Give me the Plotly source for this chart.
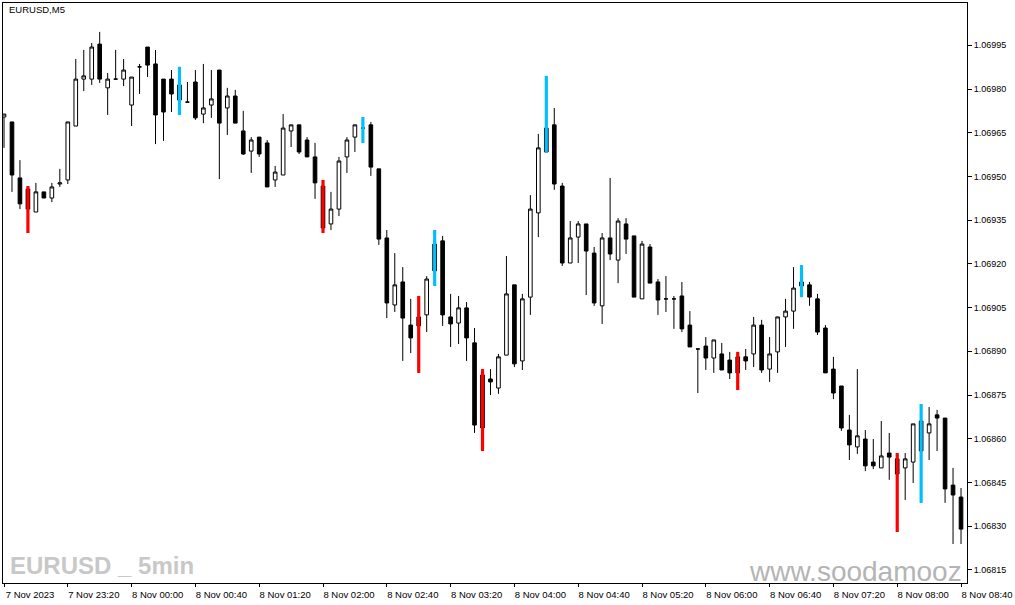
import plotly.graph_objects as go

# EURUSD M5 bars, 7 Nov 2023 22:40 -> 8 Nov 2023 08:40 (one bar every 5 minutes)
open_ = [
    1.069704, 1.069687, 1.069495, 1.069457, 1.069378, 1.069447, 1.069426, 1.069474, 1.069488, 1.069673,
    1.069834, 1.069834, 1.069954, 1.069804, 1.069834, 1.069834, 1.069745, 1.069876, 1.069944, 1.069886,
    1.069834, 1.069834, 1.069814, 1.069755, 1.069824, 1.069714, 1.069745, 1.069865, 1.069735, 1.069776,
    1.069656, 1.069587, 1.069635, 1.069615, 1.069488, 1.069505, 1.069656, 1.069677, 1.069625, 1.069567,
    1.069467, 1.069337, 1.069388, 1.069567, 1.069635, 1.069666, 1.069677, 1.069526, 1.069289, 1.069059,
    1.069138, 1.068990, 1.069018, 1.069025, 1.069268, 1.069279, 1.069018, 1.068997, 1.069049, 1.068929,
    1.068819, 1.068805, 1.068774, 1.068887, 1.069128, 1.068867, 1.069086, 1.069375, 1.069666, 1.069677,
    1.069467, 1.069203, 1.069292, 1.069337, 1.069237, 1.069056, 1.069289, 1.069213, 1.069337, 1.069296,
    1.069080, 1.069258, 1.069138, 1.069080, 1.069080, 1.069090, 1.068990, 1.068908, 1.068918, 1.068877,
    1.068891, 1.068870, 1.068881, 1.068881, 1.068891, 1.068990, 1.068839, 1.068898, 1.069018, 1.069038,
    1.069138, 1.069128, 1.069080, 1.068980, 1.068839, 1.068781, 1.068630, 1.068572, 1.068599, 1.068520,
    1.068500, 1.068551, 1.068531, 1.068500, 1.068520, 1.068661, 1.068620, 1.068682, 1.068671, 1.068441,
    1.068400,
]
high = [
    1.069714, 1.069687, 1.069556, 1.069467, 1.069478, 1.069447, 1.069478, 1.069526, 1.069687, 1.069903,
    1.069934, 1.069958, 1.069996, 1.069855, 1.069934, 1.069903, 1.069841, 1.069886, 1.069944, 1.069934,
    1.069834, 1.069865, 1.069876, 1.069824, 1.069865, 1.069886, 1.069865, 1.069865, 1.069804, 1.069797,
    1.069725, 1.069635, 1.069635, 1.069625, 1.069536, 1.069714, 1.069677, 1.069677, 1.069635, 1.069615,
    1.069488, 1.069447, 1.069567, 1.069635, 1.069677, 1.069704, 1.069687, 1.069526, 1.069316, 1.069237,
    1.069189, 1.069080, 1.069090, 1.069158, 1.069316, 1.069296, 1.069097, 1.069090, 1.069069, 1.068980,
    1.068839, 1.068839, 1.068891, 1.069227, 1.069128, 1.069097, 1.069436, 1.069646, 1.069845, 1.069735,
    1.069478, 1.069347, 1.069347, 1.069337, 1.069258, 1.069306, 1.069495, 1.069357, 1.069357, 1.069296,
    1.069279, 1.069268, 1.069148, 1.069158, 1.069090, 1.069138, 1.069038, 1.068908, 1.068949, 1.068939,
    1.068929, 1.068898, 1.068898, 1.068908, 1.069018, 1.069008, 1.068949, 1.069018, 1.069080, 1.069189,
    1.069196, 1.069138, 1.069097, 1.068990, 1.068881, 1.068781, 1.068682, 1.068839, 1.068630, 1.068599,
    1.068661, 1.068620, 1.068551, 1.068551, 1.068651, 1.068719, 1.068709, 1.068699, 1.068671, 1.068500,
    1.068431,
]
low = [
    1.069598, 1.069447, 1.069388, 1.069306, 1.069378, 1.069426, 1.069412, 1.069464, 1.069474, 1.069673,
    1.069793, 1.069814, 1.069821, 1.069711, 1.069834, 1.069810, 1.069673, 1.069783, 1.069841, 1.069611,
    1.069622, 1.069721, 1.069711, 1.069755, 1.069694, 1.069683, 1.069701, 1.069491, 1.069642, 1.069683,
    1.069574, 1.069512, 1.069567, 1.069464, 1.069464, 1.069505, 1.069601, 1.069577, 1.069567, 1.069423,
    1.069306, 1.069316, 1.069364, 1.069512, 1.069584, 1.069615, 1.069502, 1.069265, 1.069014, 1.069035,
    1.068867, 1.068894, 1.068826, 1.068966, 1.069124, 1.068987, 1.068915, 1.068925, 1.068867, 1.068620,
    1.068558, 1.068750, 1.068754, 1.068887, 1.068846, 1.068836, 1.069025, 1.069292, 1.069584, 1.069454,
    1.069193, 1.069203, 1.069203, 1.069093, 1.069056, 1.068994, 1.069213, 1.069134, 1.069234, 1.069086,
    1.069080, 1.069134, 1.069025, 1.069035, 1.068977, 1.068966, 1.068915, 1.068757, 1.068836, 1.068826,
    1.068836, 1.068805, 1.068767, 1.068836, 1.068846, 1.068826, 1.068795, 1.068826, 1.068915, 1.068977,
    1.069086, 1.069056, 1.068956, 1.068826, 1.068736, 1.068627, 1.068527, 1.068548, 1.068489, 1.068496,
    1.068500, 1.068459, 1.068280, 1.068390, 1.068448, 1.068380, 1.068527, 1.068558, 1.068380, 1.068239,
    1.068239,
]
close = [
    1.069714, 1.069505, 1.069406, 1.069388, 1.069447, 1.069426, 1.069464, 1.069478, 1.069687, 1.069834,
    1.069845, 1.069944, 1.069834, 1.069834, 1.069834, 1.069865, 1.069841, 1.069876, 1.069882, 1.069711,
    1.069721, 1.069783, 1.069762, 1.069755, 1.069701, 1.069735, 1.069766, 1.069683, 1.069776, 1.069683,
    1.069577, 1.069625, 1.069577, 1.069464, 1.069515, 1.069666, 1.069677, 1.069584, 1.069567, 1.069478,
    1.069323, 1.069388, 1.069553, 1.069625, 1.069677, 1.069666, 1.069532, 1.069285, 1.069066, 1.069128,
    1.069014, 1.068946, 1.068987, 1.069148, 1.069176, 1.069025, 1.068994, 1.069049, 1.068946, 1.068647,
    1.068637, 1.068795, 1.068881, 1.069097, 1.068857, 1.069080, 1.069388, 1.069598, 1.069584, 1.069474,
    1.069203, 1.069289, 1.069337, 1.069244, 1.069066, 1.069289, 1.069234, 1.069347, 1.069285, 1.069086,
    1.069268, 1.069134, 1.069076, 1.069080, 1.069080, 1.068977, 1.068915, 1.068908, 1.068877, 1.068939,
    1.068836, 1.068826, 1.068826, 1.068867, 1.068990, 1.068836, 1.068891, 1.069018, 1.069038, 1.069117,
    1.069124, 1.069086, 1.068966, 1.068826, 1.068757, 1.068637, 1.068579, 1.068610, 1.068507, 1.068507,
    1.068541, 1.068537, 1.068479, 1.068531, 1.068651, 1.068558, 1.068651, 1.068671, 1.068428, 1.068407,
    1.068290,
]
bars = list(range(len(open_)))

# bars flagged by the indicator (drawn high-to-low in colour)
red_bars = [3, 40, 52, 60, 92, 112]
blue_bars = [22, 45, 54, 68, 100, 115]

tick_bars = list(range(0, 121, 8))
tick_labels = ["7 Nov 2023", "7 Nov 23:20", "8 Nov 00:00", "8 Nov 00:40", "8 Nov 01:20",
               "8 Nov 02:00", "8 Nov 02:40", "8 Nov 03:20", "8 Nov 04:00", "8 Nov 04:40",
               "8 Nov 05:20", "8 Nov 06:00", "8 Nov 06:40", "8 Nov 07:20", "8 Nov 08:00",
               "8 Nov 08:40"]

fig = go.Figure()

fig.add_trace(go.Candlestick(
    x=bars, open=open_, high=high, low=low, close=close,
    increasing=dict(fillcolor="white", line=dict(color="black", width=1)),
    decreasing=dict(fillcolor="black", line=dict(color="black", width=1)),
    whiskerwidth=0,
    showlegend=False,
))

# coloured high-low lines, scatter layer sits above the candles
for idx, col in [(red_bars, "#ff0000"), (blue_bars, "#00bfff")]:
    xs, ys = [], []
    for i in idx:
        xs += [i, i, None]
        ys += [low[i], high[i], None]
    fig.add_trace(go.Scatter(x=xs, y=ys, mode="lines",
                             line=dict(color=col, width=3.2),
                             showlegend=False))

fig.add_annotation(text="EURUSD,M5", xref="paper", yref="paper", x=0.004, y=0.988,
                   xanchor="left", yanchor="middle", showarrow=False,
                   font=dict(family="Liberation Sans", size=9.5, color="black"))
fig.add_annotation(text="EURUSD _ 5min", xref="paper", yref="paper", x=0.005, y=0.031,
                   xanchor="left", yanchor="middle", showarrow=False,
                   font=dict(family="Liberation Sans", size=24, weight="bold", color="#c8c8c8"))
fig.add_annotation(text="www.soodamooz", xref="paper", yref="paper", x=0.997, y=0.02,
                   xanchor="right", yanchor="middle", showarrow=False,
                   font=dict(family="Liberation Sans", size=28, color="#b4b4b4"))

fig.update_layout(
    width=1015, height=605,
    margin=dict(l=2, r=46, t=3, b=22),
    paper_bgcolor="white", plot_bgcolor="white",
    boxgap=0.35,
    showlegend=False,
    font=dict(family="Liberation Sans", size=9, color="black"),
)
fig.update_xaxes(
    range=[-0.125, 120.75], showgrid=False, zeroline=False,
    rangeslider=dict(visible=False),
    tickmode="array", tickvals=tick_bars, ticktext=tick_labels,
    ticks="outside", ticklen=3, tickcolor="black", ticklabelshift=26,
    tickfont=dict(size=9.5),
    showline=True, linecolor="black", linewidth=1, mirror=True,
)
fig.update_yaxes(
    side="right", range=[1.0681051, 1.0700951], showgrid=False, zeroline=False,
    tick0=1.06815, dtick=0.00015, tickformat=".5f",
    ticks="outside", ticklen=4, tickcolor="black",
    tickfont=dict(size=9),
    showline=True, linecolor="black", linewidth=1, mirror=True,
)

fig.write_html("out.html", config={"displayModeBar": False},
               post_script="document.body.style.margin='0px';")
